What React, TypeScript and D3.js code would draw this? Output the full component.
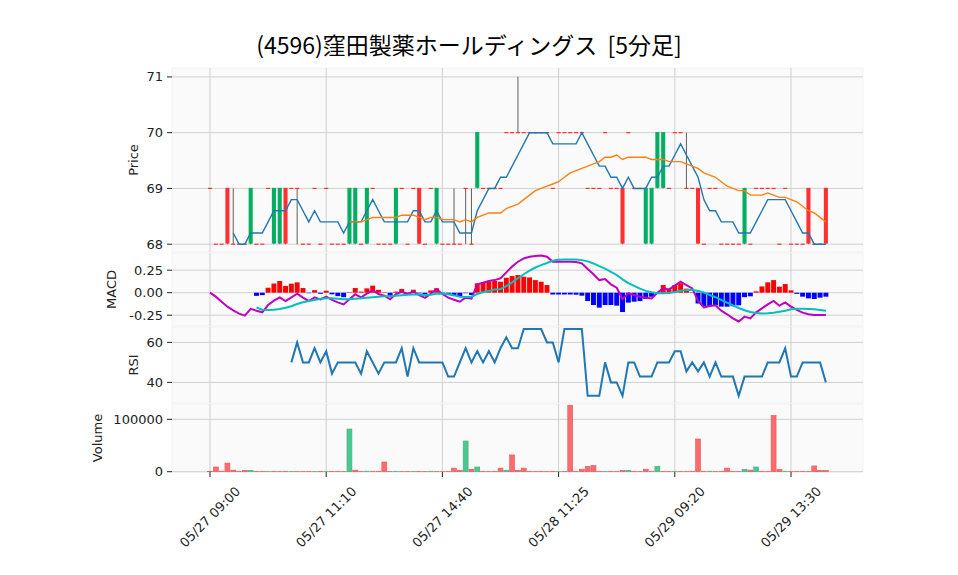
import * as d3 from 'd3'

// 5-minute bars, 05/27 09:00 .. 05/29 close (107 bars)
const closes = [69,68,68,68,68,68,68,69,68,68, 69,69,69,68,69,69,68,68,69,68, 69,68,68,68,69,69,68,69,69,68,
  68,68,69,69,68,69,68,68,69,69, 68,68,68,68,69,68,70,69,69,69, 69,70,70,70,70,70,70,70,70,69,
  70,70,70,70,70,69,69,69,70,69, 69,68,70,69,69,69,69,70,70,69, 70,70,69,69,68,68,69,69,68,68,
  68,68,69,68,69,69,69,69,68,69, 68,68,68,68,68,68,68]
const opens = [69,68,68,69,68,68,68,68,68,68, 69,68,68,69,69,69,68,68,69,68, 69,68,68,68,68,68,68,68,69,68,
  68,68,68,69,68,69,69,68,69,68, 68,68,68,68,69,68,69,69,69,69, 69,70,70,70,70,70,70,70,70,69,
  70,70,70,70,70,69,69,69,70,69, 69,69,70,69,69,68,68,69,69,69, 70,70,69,69,69,68,69,69,68,68,
  68,68,68,68,69,69,69,69,68,69, 68,68,68,69,68,68,69]
const highs = [69,68,68,69,69,68,68,69,68,68, 69,69,69,69,69,69,68,68,69,68, 69,68,68,68,69,69,68,69,69,68,
  68,68,69,69,68,69,69,68,69,69, 68,68,69,68,69,69,70,69,69,69, 69,70,70,71,70,70,70,70,70,69,
  70,70,70,70,70,69,69,69,70,69, 69,69,70,69,69,69,69,70,70,69, 70,70,70,69,69,68,69,69,68,68,
  68,68,69,68,69,69,69,69,68,69, 68,68,68,69,68,68,69]
const lows = [69,68,68,68,68,68,68,68,68,68, 69,68,68,68,69,68,68,68,69,68, 69,68,68,68,68,68,68,68,69,68,
  68,68,68,69,68,69,68,68,69,68, 68,68,68,68,68,68,69,69,69,69, 69,70,70,70,70,70,70,70,70,69,
  70,70,70,70,70,69,69,69,70,69, 69,68,70,69,69,68,68,69,69,69, 70,70,69,69,68,68,69,69,68,68,
  68,68,68,68,69,69,69,69,68,69, 68,68,68,68,68,68,68]
const volumes = [400,9000,1200,16500,3000,1000,2600,2600,900,900, 800,900,800,900,800,800,700,800,700,900,
  800,900,900,800,81500,3000,900,1000,900,1000, 18500,800,900,700,800,800,900,700,900,800,
  700,800,6800,2800,58600,4800,9000,900,800,900, 6800,2800,32000,2800,6800,900,800,900,800,900,
  700,800,126800,900,4800,10000,12000,900,800,900, 800,2500,2500,900,800,4800,900,10500,900,800,
  900,800,800,900,62400,900,1000,800,900,6800, 900,800,4500,3000,9000,900,800,107600,4500,1000,
  800,800,900,800,11000,2600,2600]

const MA5_START = 4
const ma5 = [68.2,68.0,68.0,68.2,68.2,68.2, 68.4,68.6,68.6,68.6,68.8,68.8,68.6,68.4,68.6,68.4,
  68.4,68.4,68.4,68.2,68.4,68.4,68.4,68.6,68.8,68.6, 68.4,68.4,68.4,68.4,68.4,68.6,68.6,68.4,68.4,68.6,
  68.4,68.4,68.4,68.2,68.2,68.2,68.6,68.8,69.0,69.0, 69.2,69.2,69.4,69.6,69.8,70.0,70.0,70.0,70.0,69.8,
  69.8,69.8,69.8,69.8,70.0,69.8,69.6,69.4,69.4,69.2, 69.2,69.0,69.2,69.0,69.0,69.0,69.2,69.2,69.4,69.4,
  69.6,69.8,69.6,69.4,69.2,68.8,68.6,68.6,68.4,68.4, 68.4,68.2,68.2,68.2,68.4,68.6,68.8,68.8,68.8,68.8,
  68.6,68.4,68.2,68.2,68.0,68.0,68.0]
const MA25_START = 24
const ma25 = [68.40,68.40,68.40,68.44,68.48,68.48,
  68.48,68.48,68.48,68.52,68.52,68.52,68.48,68.44,68.48,68.48, 68.44,68.44,68.44,68.40,68.44,68.40,68.48,68.52,68.56,68.56,
  68.56,68.64,68.68,68.72,68.80,68.88,68.96,69.00,69.04,69.08, 69.12,69.20,69.28,69.32,69.36,69.40,69.44,69.48,69.56,69.56,
  69.60,69.52,69.56,69.56,69.56,69.56,69.52,69.52,69.52,69.48, 69.48,69.48,69.44,69.40,69.36,69.28,69.24,69.20,69.12,69.04,
  69.00,68.96,68.96,68.88,68.88,68.88,68.92,68.88,68.84,68.84, 68.80,68.76,68.68,68.60,68.56,68.48,68.40]

const macdLine = [0,-0.044,-0.100,-0.155,-0.196,-0.233,-0.255,-0.180,-0.200,-0.218,
  -0.137,-0.089,-0.052,-0.092,-0.052,-0.011,-0.055,-0.092,-0.052,-0.074, -0.044,-0.080,-0.107,-0.130,-0.074,-0.018,-0.052,-0.011,0.026,-0.015,
  -0.033,-0.074,-0.015,0.011,-0.015,0.011,-0.026,-0.058,-0.010,0.037, -0.015,-0.055,-0.078,-0.100,-0.055,-0.067,0.093,0.110,0.130,0.140,
  0.160,0.226,0.290,0.344,0.380,0.400,0.407,0.412,0.400,0.344, 0.344,0.344,0.344,0.340,0.326,0.263,0.204,0.140,0.152,0.093,
  0.055,-0.070,-0.007,-0.026,-0.044,-0.055,-0.063,0.000,0.048,0.037, 0.078,0.122,0.085,0.048,-0.092,-0.163,-0.148,-0.140,-0.200,-0.240,
  -0.285,-0.320,-0.266,-0.285,-0.218,-0.174,-0.130,-0.092,-0.144,-0.107, -0.155,-0.192,-0.222,-0.240,-0.248,-0.248,-0.248]
const SIG_START = 8
const macdSignal = [-0.165,-0.190,
  -0.192,-0.190,-0.182,-0.167,-0.150,-0.126,-0.107,-0.092,-0.080,-0.068, -0.063,-0.062,-0.066,-0.074,-0.074,-0.068,-0.063,-0.057,-0.050,-0.045,
  -0.040,-0.040,-0.034,-0.028,-0.024,-0.020,-0.019,-0.025,-0.023,-0.012, -0.009,-0.018,-0.030,-0.045,-0.047,-0.045,-0.015,0.006,0.020,0.035,
  0.042,0.073,0.115,0.160,0.205,0.245,0.280,0.307,0.330,0.355, 0.366,0.370,0.370,0.368,0.362,0.348,0.325,0.295,0.268,0.232,
  0.197,0.148,0.107,0.075,0.045,0.020,0.005,-0.005,-0.005,-0.002, 0.008,0.022,0.030,0.032,0.020,0.002,-0.025,-0.050,-0.080,-0.110,
  -0.140,-0.170,-0.195,-0.215,-0.225,-0.230,-0.228,-0.222,-0.212,-0.200, -0.185,-0.178,-0.178,-0.180,-0.185,-0.192,-0.200]
const macdHist = [-0.035,-0.027,
  0.055,0.102,0.130,0.075,0.100,0.115,0.052,-0.003,0.028,-0.012, 0.022,-0.018,-0.038,-0.050,0.005,0.052,0.012,0.048,0.078,0.032,
  0.004,-0.034,0.012,0.042,0.006,0.033,-0.008,-0.030,0.025,0.050, -0.008,-0.020,-0.035,-0.048,-0.005,-0.025,0.104,0.115,0.122,0.130,
  0.122,0.166,0.185,0.196,0.178,0.170,0.140,0.122,0.085,-0.020, -0.020,-0.020,-0.020,-0.022,-0.033,-0.092,-0.137,-0.166,-0.137,-0.137,
  -0.144,-0.215,-0.110,-0.100,-0.093,-0.070,-0.045,0.005,0.085,0.040, 0.085,0.105,0.045,0.005,-0.120,-0.150,-0.150,-0.140,-0.155,-0.155,
  -0.150,-0.140,-0.050,-0.040,0.015,0.070,0.115,0.140,0.067,0.096, 0.026,-0.013,-0.044,-0.063,-0.070,-0.055,-0.044]
const RSI_START = 14
const rsi14 = [50,60,50,50,57.1,50,
  55.6,44.4,50,50,50,50,44.4,55.6,50,44.4, 50,50,50,57.1,42.9,57.1,50,50,50,50,
  50,42.9,42.9,50,57.1,50,55.6,50,55.6,50, 57.1,62.5,57.1,57.1,66.7,66.7,66.7,66.7,60,60,
  50,66.7,66.7,66.7,66.7,33.3,33.3,33.3,50,40, 40,33.3,50,50,42.9,42.9,42.9,50,50,50,
  55.6,55.6,45.5,50,45.5,50,42.9,50,42.9,42.9, 42.9,33.3,42.9,42.9,42.9,42.9,50,50,50,57.1,
  42.9,42.9,50,50,50,50,40]

const xTickIdx = [0,20,40,60,80,100]
const xTickLabels = ['05/27 09:00','05/27 11:10','05/27 14:40','05/28 11:25','05/29 09:20','05/29 13:30']
const priceTicks = [68,69,70,71]
const macdTicks = [-0.25,0,0.25]
const rsiTicks = [40,60]
const volTicks = [0,100000]

const UP = '#00b060', DOWN = '#fe3032', WICK = '#606060'
const VUP = '#4dc790', VDOWN = '#fd6b6c'
const GRID = '#d0d0d0', BG = '#fafafa'
const FONT = '"DejaVu Sans", sans-serif'
const JFONT = '"Noto Sans CJK JP", sans-serif'

const L = 172, R = 863
const x = d3.scaleLinear().domain([-6.54, 112.39]).range([L, R])
const step = x(1) - x(0)

const yP = d3.scaleLinear().domain([67.86, 71.16]).range([252, 68])
const yM = d3.scaleLinear().domain([-0.37, 0.43]).range([326, 254])
const yR = d3.scaleLinear().domain([30.2, 67.2]).range([402, 328])
const yV = d3.scaleLinear().domain([0, 129200]).range([471.7, 404])

const panels = [
  { top: 68, bottom: 252, y: yP, ticks: priceTicks, fmt: (v: number) => String(v), label: 'Price', lx: 133 },
  { top: 253, bottom: 326, y: yM, ticks: macdTicks, fmt: (v: number) => v.toFixed(2), label: 'MACD', lx: 111 },
  { top: 327, bottom: 403, y: yR, ticks: rsiTicks, fmt: (v: number) => String(v), label: 'RSI', lx: 133 },
  { top: 404, bottom: 472, y: yV, ticks: volTicks, fmt: (v: number) => String(v), label: 'Volume', lx: 97 },
]

const pts = (arr: number[], start: number) => arr.map((v, k) => [start + k, v] as [number, number])

export default function App() {
  const lineP = d3.line<[number, number]>().x(d => x(d[0])).y(d => yP(d[1]))
  const lineM = d3.line<[number, number]>().x(d => x(d[0])).y(d => yM(d[1]))
  const lineR = d3.line<[number, number]>().x(d => x(d[0])).y(d => yR(d[1]))
  const bw = step * 0.7
  const vw = step * 0.85

  return (
    <div style={{ position: 'absolute', left: 0, top: 0 }}>
      <svg width={958} height={575} style={{ display: 'block', background: '#fff', fontFamily: FONT }}>
        <text x={469} y={54} textAnchor="middle" fontSize={23} fill="#000" fontFamily={JFONT} style={{ whiteSpace: 'pre' }}>
          {'(4596)窪田製薬ホールディングス  [5分足]'}
        </text>

        {panels.map(p => (
          <g key={p.label}>
            <rect x={L} y={p.top} width={R - L} height={p.bottom - p.top} fill={BG} stroke="#efefef" strokeWidth={0.8} />
            {p.ticks.map(t => (
              <g key={t}>
                <line x1={L} x2={R} y1={p.y(t)} y2={p.y(t)} stroke={GRID} strokeWidth={1} />
                <line x1={L - 5} x2={L} y1={p.y(t)} y2={p.y(t)} stroke="#222" strokeWidth={1} />
                <text x={L - 9} y={p.y(t)} textAnchor="end" dominantBaseline="central" fontSize={13} fill="#222">{p.fmt(t)}</text>
              </g>
            ))}
            {xTickIdx.map(i => (
              <line key={i} x1={x(i)} x2={x(i)} y1={p.top} y2={p.bottom} stroke={GRID} strokeWidth={1} />
            ))}
            <text transform={`translate(${p.lx},${(p.top + p.bottom) / 2}) rotate(-90)`} textAnchor="middle"
              dominantBaseline="central" fontSize={13} fill="#222">{p.label}</text>
          </g>
        ))}

        {/* candles */}
        {closes.map((c, i) => (
          <line key={'w' + i} x1={x(i)} x2={x(i)} y1={yP(highs[i])} y2={yP(lows[i])} stroke={WICK} strokeWidth={1} />
        ))}
        {closes.map((c, i) => {
          const o = opens[i]
          const col = c > o ? UP : DOWN
          const y0 = yP(Math.max(o, c)), y1 = yP(Math.min(o, c))
          return <rect key={'b' + i} x={x(i) - bw / 2} y={y0 - 0.6} width={bw} height={Math.max(1.2, y1 - y0)} fill={col} />
        })}
        <path d={lineP(pts(ma5, MA5_START)) || ''} fill="none" stroke="#1f77b4" strokeWidth={1.4} />
        <path d={lineP(pts(ma25, MA25_START)) || ''} fill="none" stroke="#ff7f0e" strokeWidth={1.4} />

        {/* MACD */}
        {macdHist.map((h, k) => {
          const i = SIG_START + k
          const y0 = yM(Math.max(0, h)), y1 = yM(Math.min(0, h))
          return <rect key={'h' + i} x={x(i) - vw / 2} y={y0} width={vw} height={Math.max(0.5, y1 - y0)} fill={h >= 0 ? '#ff0000' : '#0000ff'} />
        })}
        <path d={lineM(pts(macdLine, 0)) || ''} fill="none" stroke="#bf00bf" strokeWidth={2} />
        <path d={lineM(pts(macdSignal, SIG_START)) || ''} fill="none" stroke="#00bfbf" strokeWidth={2} />

        {/* RSI */}
        <path d={lineR(pts(rsi14, RSI_START)) || ''} fill="none" stroke="#1f77b4" strokeWidth={2} />

        {/* Volume */}
        {volumes.map((v, i) => {
          const up = i > 0 && closes[i] > closes[i - 1]
          const col = up ? VUP : VDOWN
          const y0 = yV(v)
          return <rect key={'v' + i} x={x(i) - vw / 2} y={y0} width={vw} height={yV(0) - y0}
            fill={col} stroke={d3.color(col)!.darker(0.4).toString()} strokeWidth={0.6} />
        })}

        {/* x axis ticks */}
        {xTickIdx.map((i, k) => (
          <g key={'xt' + i}>
            <line x1={x(i)} x2={x(i)} y1={472} y2={477} stroke="#222" strokeWidth={1} />
            <text transform={`translate(${x(i)},517) rotate(-45)`} textAnchor="middle" dominantBaseline="central"
              fontSize={13} fill="#222" style={{ whiteSpace: 'pre' }}>{xTickLabels[k]}</text>
          </g>
        ))}
      </svg>
    </div>
  )
}
